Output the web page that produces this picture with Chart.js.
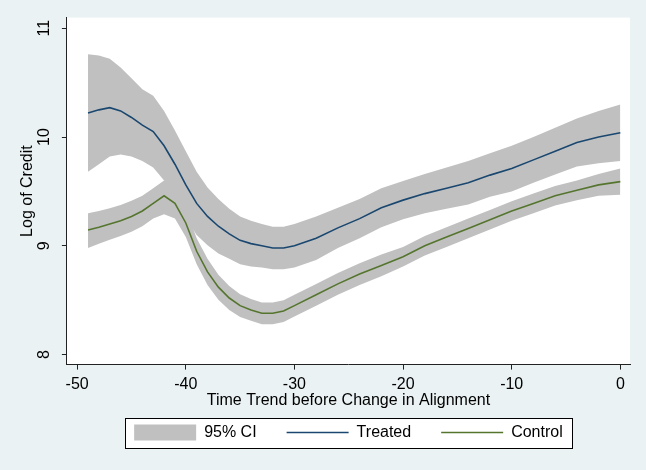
<!DOCTYPE html>
<html>
<head>
<meta charset="utf-8">
<script src="https://cdn.jsdelivr.net/npm/chart.js@4.4.0/dist/chart.umd.min.js"></script>
<style>
html, body { margin: 0; padding: 0; background: #eaf2f3; }
#wrap { width: 646px; height: 470px; }
</style>
</head>
<body>
<div id="wrap"><canvas id="myChart" width="646" height="470"></canvas></div>
<script>
// time trend before change in alignment
var timeTrend = [-49,-48,-47,-46,-45,-44,-43,-42,-41,-40,-39,-38,-37,-36,-35,-34,-33,-32,-31,-30,
                 -28,-26,-24,-22,-20,-18,-16,-14,-12,-10,-8,-6,-4,-2,0];

// log of credit, treated group (fit and 95% CI)
var treated      = [10.22,10.25,10.27,10.24,10.18,10.11,10.05,9.92,9.75,9.56,9.39,9.27,9.18,9.11,9.05,9.02,9.00,8.98,8.98,9.00,
                    9.07,9.165,9.25,9.35,9.42,9.48,9.53,9.58,9.65,9.71,9.79,9.87,9.95,10.00,10.04];
var treatedUpper = [10.76,10.75,10.72,10.64,10.54,10.44,10.38,10.24,10.06,9.87,9.68,9.535,9.43,9.34,9.27,9.23,9.20,9.175,9.175,9.20,
                    9.27,9.35,9.43,9.53,9.595,9.66,9.72,9.78,9.85,9.92,10.00,10.085,10.17,10.24,10.30];
var treatedLower = [9.68,9.75,9.82,9.84,9.82,9.78,9.72,9.60,9.44,9.25,9.10,9.005,8.93,8.88,8.83,8.81,8.80,8.785,8.785,8.80,
                    8.87,8.98,9.07,9.17,9.245,9.30,9.34,9.38,9.45,9.50,9.58,9.655,9.73,9.76,9.78];

// log of credit, control group (fit and 95% CI)
var control      = [9.145,9.17,9.20,9.23,9.27,9.32,9.39,9.46,9.39,9.21,8.95,8.76,8.62,8.52,8.45,8.41,8.38,8.38,8.40,8.45,
                    8.55,8.65,8.74,8.82,8.90,9.00,9.08,9.16,9.24,9.32,9.39,9.46,9.51,9.56,9.59];
var controlUpper = [9.30,9.32,9.345,9.375,9.415,9.46,9.53,9.60,9.52,9.34,9.07,8.88,8.735,8.63,8.555,8.51,8.48,8.48,8.50,8.55,
                    8.65,8.75,8.84,8.92,8.99,9.09,9.17,9.25,9.33,9.41,9.48,9.55,9.60,9.66,9.71];
var controlLower = [8.98,9.02,9.055,9.09,9.13,9.18,9.25,9.29,9.25,9.08,8.83,8.64,8.505,8.41,8.345,8.31,8.28,8.28,8.30,8.35,
                    8.45,8.55,8.64,8.72,8.81,8.91,8.99,9.07,9.15,9.23,9.30,9.37,9.42,9.46,9.47];

var xTicks = [-50,-40,-30,-20,-10,0];
var yTicks = [8,9,10,11];
var legendLabels = ['95% CI','Treated','Control'];

var ciColor = '#c0c0c0';
var treatedColor = '#1a476f';
var controlColor = '#55752f';
var axisColor = '#222222';
var font16 = { family: '"Liberation Sans", Arial, sans-serif', size: 16 };
var legendPad = 30;

function pts(ys) {
  return timeTrend.map(function (x, i) { return { x: x, y: ys[i] }; });
}

function bandSet(ys, fill) {
  return {
    data: pts(ys),
    borderWidth: 0,
    pointRadius: 0,
    backgroundColor: ciColor,
    fill: fill
  };
}

var stataFrame = {
  id: 'stataFrame',
  afterLayout: function (chart) {
    // put the legend row just under the axis title, as stata does
    var lg = chart.legend;
    var dy = (424.5 - legendPad) - lg.top;
    lg.top += dy;
    lg.bottom += dy;
  },
  beforeDraw: function (chart) {
    var ctx = chart.ctx;
    var a = chart.chartArea;
    ctx.save();
    ctx.fillStyle = '#ffffff';
    ctx.fillRect(a.left, a.top, a.right - a.left, a.bottom - a.top);
    var hb = chart.legend.legendHitBoxes;
    if (hb && hb.length) {
      var last = hb[hb.length - 1];
      var l = Math.round(hb[0].left - 9);
      var r = Math.round(last.left + last.width + 9);
      var cy = hb[0].top + hb[0].height / 2;
      var t = Math.round(cy - 15);
      ctx.fillRect(l, t, r - l, 30);
      ctx.strokeStyle = '#000000';
      ctx.lineWidth = 1;
      ctx.strokeRect(l + 0.5, t + 0.5, r - l, 30);
    }
    ctx.restore();
  }
};

var ctx = document.getElementById('myChart').getContext('2d');
var myChart = new Chart(ctx, {
  type: 'line',
  data: {
    datasets: [
      { label: 'Treated', data: pts(treated), borderColor: treatedColor, borderWidth: 1.6, pointRadius: 0, tension: 0, fill: false },
      { label: 'Control', data: pts(control), borderColor: controlColor, borderWidth: 1.6, pointRadius: 0, tension: 0, fill: false },
      bandSet(treatedUpper, '+1'),
      bandSet(treatedLower, false),
      bandSet(controlUpper, '+1'),
      bandSet(controlLower, false)
    ]
  },
  options: {
    responsive: false,
    animation: false,
    layout: { padding: { left: 13.5, right: 16, top: 16, bottom: 4 } },
    scales: {
      x: {
        type: 'linear',
        min: -50.945,
        max: 0.89,
        afterBuildTicks: function (s) { s.ticks = xTicks.map(function (v) { return { value: v }; }); },
        ticks: { color: '#000', font: font16, padding: 5, maxRotation: 0, autoSkip: false },
        grid: { drawOnChartArea: false, drawTicks: true, tickLength: 5, color: axisColor },
        border: { display: true, color: axisColor },
        title: { display: true, text: 'Time Trend before Change in Alignment', color: '#000', font: font16, padding: { top: -8, bottom: 0 } }
      },
      y: {
        type: 'linear',
        min: 7.908,
        max: 11.098,
        afterBuildTicks: function (s) { s.ticks = yTicks.map(function (v) { return { value: v }; }); },
        ticks: { color: '#000', font: font16, padding: 8, minRotation: 90, maxRotation: 90, crossAlign: 'center' },
        grid: { drawOnChartArea: false, drawTicks: true, tickLength: 5, color: axisColor },
        border: { display: true, color: axisColor },
        title: { display: true, text: 'Log of Credit', color: '#000', font: font16, padding: { top: 4, bottom: -10 } }
      }
    },
    plugins: {
      tooltip: { enabled: false },
      legend: {
        position: 'bottom',
        fullSize: false,
        maxHeight: 75,
        labels: {
          usePointStyle: true,
          pointStyleWidth: 62,
          boxHeight: 16,
          padding: legendPad,
          color: '#000',
          font: font16,
          generateLabels: function () {
            return [
              { text: legendLabels[0], fillStyle: ciColor, strokeStyle: ciColor, lineWidth: 0, pointStyle: 'rect', hidden: false, datasetIndex: 2, fontColor: '#000' },
              { text: legendLabels[1], fillStyle: treatedColor, strokeStyle: treatedColor, lineWidth: 1.6, pointStyle: 'line', hidden: false, datasetIndex: 0, fontColor: '#000' },
              { text: legendLabels[2], fillStyle: controlColor, strokeStyle: controlColor, lineWidth: 1.6, pointStyle: 'line', hidden: false, datasetIndex: 1, fontColor: '#000' }
            ];
          }
        }
      }
    }
  },
  plugins: [stataFrame]
});
</script>
</body>
</html>
